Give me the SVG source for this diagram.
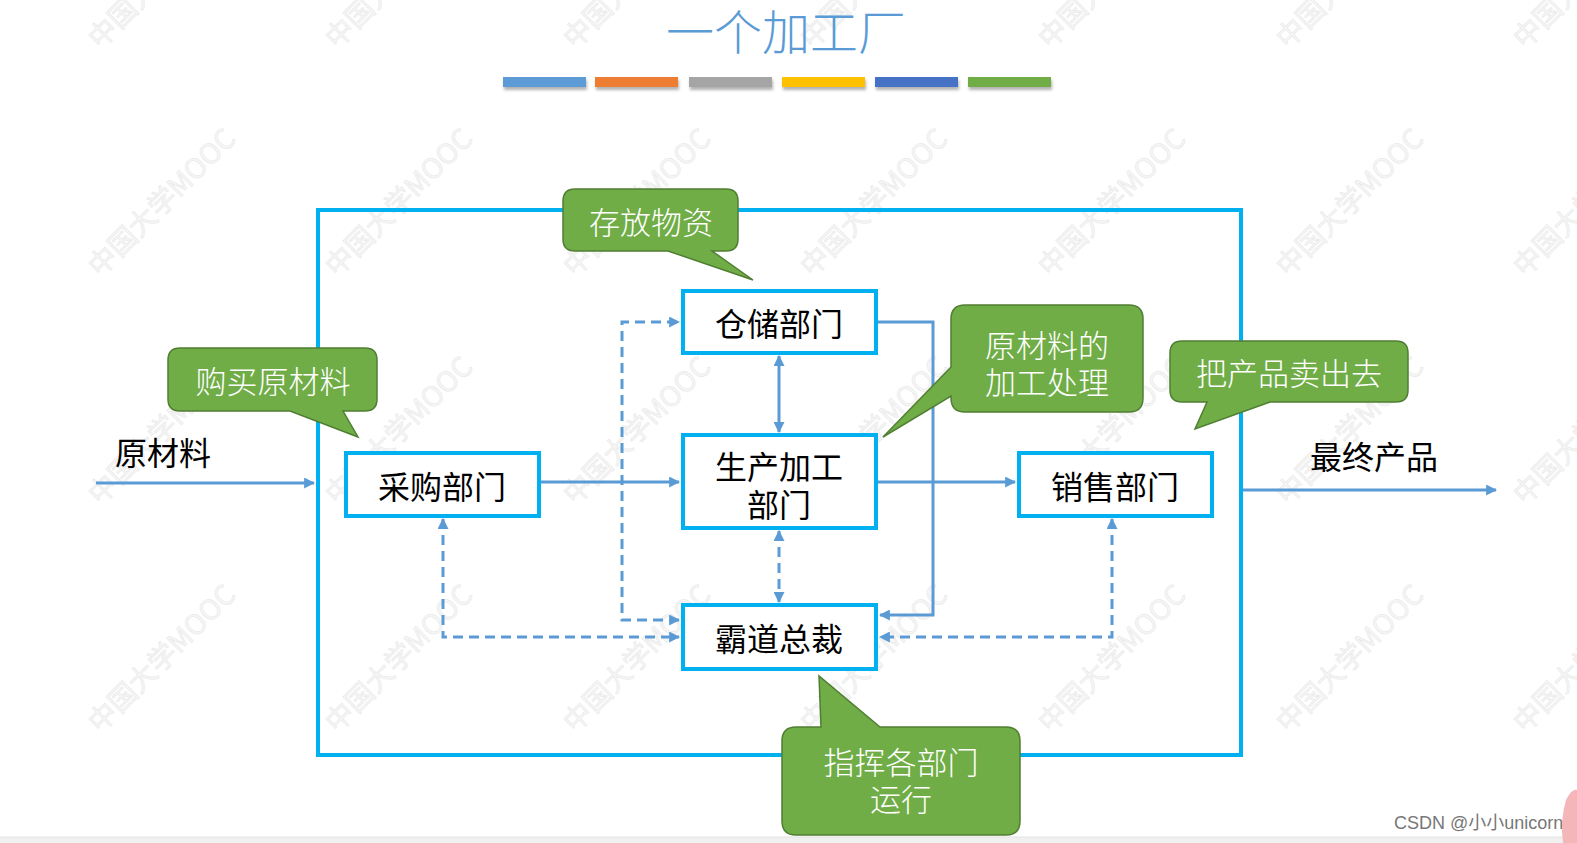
<svg xmlns="http://www.w3.org/2000/svg" width="1577" height="843" viewBox="0 0 1577 843">
<style>
.wm{font-family:"Noto Sans CJK SC","Liberation Sans",sans-serif;font-size:28px;fill:#f6f6f6;stroke:#e6e6e6;stroke-width:0.5}
.box{fill:#ffffff;stroke:#00B0F0;stroke-width:4}
.bt{font-family:"Noto Sans CJK SC","Liberation Sans",sans-serif;font-size:32px;fill:#000000;text-anchor:middle;dominant-baseline:central}
.call{fill:#70AD47;stroke:#507E32;stroke-width:1.5}
.ct{font-family:"Noto Sans CJK SC","Liberation Sans",sans-serif;font-size:31px;font-weight:300;fill:#ffffff;text-anchor:middle;dominant-baseline:central}
.ln{fill:none;stroke:#5B9BD5;stroke-width:3}
.dash{stroke-dasharray:10 6}
</style>
<defs>
<marker id="arr" viewBox="0 0 10 10" refX="9" refY="5" markerWidth="11" markerHeight="11" markerUnits="userSpaceOnUse" orient="auto-start-reverse">
<path d="M0,0 L10,5 L0,10 z" fill="#5B9BD5"/>
</marker>
<filter id="sh" x="-10%" y="-50%" width="120%" height="250%">
<feDropShadow dx="1" dy="3" stdDeviation="1.5" flood-color="#000" flood-opacity="0.3"/>
</filter>
</defs>
<rect x="0" y="0" width="1577" height="843" fill="#ffffff"/>
<g id="watermark">
<text class="wm" transform="translate(-137,50) rotate(-45)">中国大学MOOC</text>
<text class="wm" transform="translate(100,50) rotate(-45)">中国大学MOOC</text>
<text class="wm" transform="translate(337,50) rotate(-45)">中国大学MOOC</text>
<text class="wm" transform="translate(575,50) rotate(-45)">中国大学MOOC</text>
<text class="wm" transform="translate(812,50) rotate(-45)">中国大学MOOC</text>
<text class="wm" transform="translate(1050,50) rotate(-45)">中国大学MOOC</text>
<text class="wm" transform="translate(1288,50) rotate(-45)">中国大学MOOC</text>
<text class="wm" transform="translate(1525,50) rotate(-45)">中国大学MOOC</text>
<text class="wm" transform="translate(-137,278) rotate(-45)">中国大学MOOC</text>
<text class="wm" transform="translate(100,278) rotate(-45)">中国大学MOOC</text>
<text class="wm" transform="translate(337,278) rotate(-45)">中国大学MOOC</text>
<text class="wm" transform="translate(575,278) rotate(-45)">中国大学MOOC</text>
<text class="wm" transform="translate(812,278) rotate(-45)">中国大学MOOC</text>
<text class="wm" transform="translate(1050,278) rotate(-45)">中国大学MOOC</text>
<text class="wm" transform="translate(1288,278) rotate(-45)">中国大学MOOC</text>
<text class="wm" transform="translate(1525,278) rotate(-45)">中国大学MOOC</text>
<text class="wm" transform="translate(-137,506) rotate(-45)">中国大学MOOC</text>
<text class="wm" transform="translate(100,506) rotate(-45)">中国大学MOOC</text>
<text class="wm" transform="translate(337,506) rotate(-45)">中国大学MOOC</text>
<text class="wm" transform="translate(575,506) rotate(-45)">中国大学MOOC</text>
<text class="wm" transform="translate(812,506) rotate(-45)">中国大学MOOC</text>
<text class="wm" transform="translate(1050,506) rotate(-45)">中国大学MOOC</text>
<text class="wm" transform="translate(1288,506) rotate(-45)">中国大学MOOC</text>
<text class="wm" transform="translate(1525,506) rotate(-45)">中国大学MOOC</text>
<text class="wm" transform="translate(-137,734) rotate(-45)">中国大学MOOC</text>
<text class="wm" transform="translate(100,734) rotate(-45)">中国大学MOOC</text>
<text class="wm" transform="translate(337,734) rotate(-45)">中国大学MOOC</text>
<text class="wm" transform="translate(575,734) rotate(-45)">中国大学MOOC</text>
<text class="wm" transform="translate(812,734) rotate(-45)">中国大学MOOC</text>
<text class="wm" transform="translate(1050,734) rotate(-45)">中国大学MOOC</text>
<text class="wm" transform="translate(1288,734) rotate(-45)">中国大学MOOC</text>
<text class="wm" transform="translate(1525,734) rotate(-45)">中国大学MOOC</text>
</g>
<g id="title">
<text x="786" y="29" font-family="Noto Sans CJK SC, Liberation Sans, sans-serif" font-size="48" font-weight="300" fill="#5B9BD5" text-anchor="middle" dominant-baseline="central">一个加工厂</text>
<g filter="url(#sh)">
<rect x="503" y="77" width="83" height="10" fill="#5B9BD5"/>
<rect x="595" y="77" width="83" height="10" fill="#ED7D31"/>
<rect x="689" y="77" width="83" height="10" fill="#A5A5A5"/>
<rect x="782" y="77" width="83" height="10" fill="#FFC000"/>
<rect x="875" y="77" width="83" height="10" fill="#4472C4"/>
<rect x="968" y="77" width="83" height="10" fill="#70AD47"/>
</g>
</g>
<g id="factory">
<rect x="318" y="210" width="923" height="545" fill="none" stroke="#00B0F0" stroke-width="4"/>
</g>
<g id="connectors">
<path class="ln" d="M96,483 L314,483" marker-end="url(#arr)"/>
<path class="ln" d="M540,482 L679,482" marker-end="url(#arr)"/>
<path class="ln" d="M877,482 L1015,482" marker-end="url(#arr)"/>
<path class="ln" d="M1243,490 L1496,490" marker-end="url(#arr)"/>
<path class="ln" d="M779,356 L779,432" marker-start="url(#arr)" marker-end="url(#arr)"/>
<path class="ln dash" d="M779,531 L779,602" marker-start="url(#arr)" marker-end="url(#arr)"/>
<path class="ln dash" d="M679,620 L622,620 L622,322 L679,322" marker-start="url(#arr)" marker-end="url(#arr)"/>
<path class="ln dash" d="M443,519 L443,637 L679,637" marker-start="url(#arr)" marker-end="url(#arr)"/>
<path class="ln dash" d="M1112,519 L1112,637 L880,637" marker-start="url(#arr)" marker-end="url(#arr)"/>
<path class="ln" d="M878,322 L933,322 L933,615 L880,615" marker-end="url(#arr)"/>
</g>
<g id="n_storage">
<rect class="box" x="683" y="291" width="193" height="62"/>
<text class="bt" x="779" y="322">仓储部门</text>
</g>
<g id="n_production">
<rect class="box" x="683" y="435" width="193" height="93"/>
<text class="bt" x="779" y="465">生产加工</text>
<text class="bt" x="779" y="503">部门</text>
</g>
<g id="n_boss">
<rect class="box" x="683" y="605" width="193" height="64"/>
<text class="bt" x="779" y="637">霸道总裁</text>
</g>
<g id="n_purchase">
<rect class="box" x="346" y="453" width="193" height="63"/>
<text class="bt" x="442" y="485">采购部门</text>
</g>
<g id="n_sales">
<rect class="box" x="1019" y="453" width="193" height="63"/>
<text class="bt" x="1115" y="485">销售部门</text>
</g>
<g id="l_raw">
<text class="bt" x="163" y="451">原材料</text>
</g>
<g id="l_final">
<text class="bt" x="1374" y="455">最终产品</text>
</g>
<g id="c_store">
<path class="call" d="M575,189 H726 Q738,189 738,201 V239 Q738,251 726,251 H712 L753,280 L668,251 H575 Q563,251 563,239 V201 Q563,189 575,189 Z"/>
<text class="ct" x="651" y="220">存放物资</text>
</g>
<g id="c_buy">
<path class="call" d="M180,348 H365 Q377,348 377,360 V399 Q377,411 365,411 H343 L358,437 L290,411 H180 Q168,411 168,399 V360 Q168,348 180,348 Z"/>
<text class="ct" x="273" y="379">购买原材料</text>
</g>
<g id="c_process">
<path class="call" d="M965,305 H1129 Q1143,305 1143,319 V398 Q1143,412 1129,412 H965 Q951,412 951,398 V396 L883,437 L951,367 V319 Q951,305 965,305 Z"/>
<text class="ct" x="1047" y="343">原材料的</text>
<text class="ct" x="1047" y="380">加工处理</text>
</g>
<g id="c_sell">
<path class="call" d="M1182,341 H1396 Q1408,341 1408,353 V390 Q1408,402 1396,402 H1270 L1195,429 L1207,402 H1182 Q1170,402 1170,390 V353 Q1170,341 1182,341 Z"/>
<text class="ct" x="1289" y="371">把产品卖出去</text>
</g>
<g id="c_command">
<path class="call" d="M796,727 H821 L819,676 L880,727 H1006 Q1020,727 1020,741 V821 Q1020,835 1006,835 H796 Q782,835 782,821 V741 Q782,727 796,727 Z"/>
<text class="ct" x="901" y="760">指挥各部门</text>
<text class="ct" x="901" y="797">运行</text>
</g>
<g id="footer">
<rect x="0" y="837" width="1577" height="6" fill="#F0F0F0"/>
<line x1="0" y1="837" x2="1577" y2="837" stroke="#e2e2e2" stroke-width="1"/>
<text x="1394" y="829" font-family="Liberation Sans, Noto Sans CJK SC, sans-serif" font-size="18" fill="#777777">CSDN @小小unicorn</text>
<path d="M1566,800 Q1572,788 1577,790 L1577,843 L1563,843 Q1560,820 1566,800 Z" fill="#f4b6b8"/>
</g>
</svg>
